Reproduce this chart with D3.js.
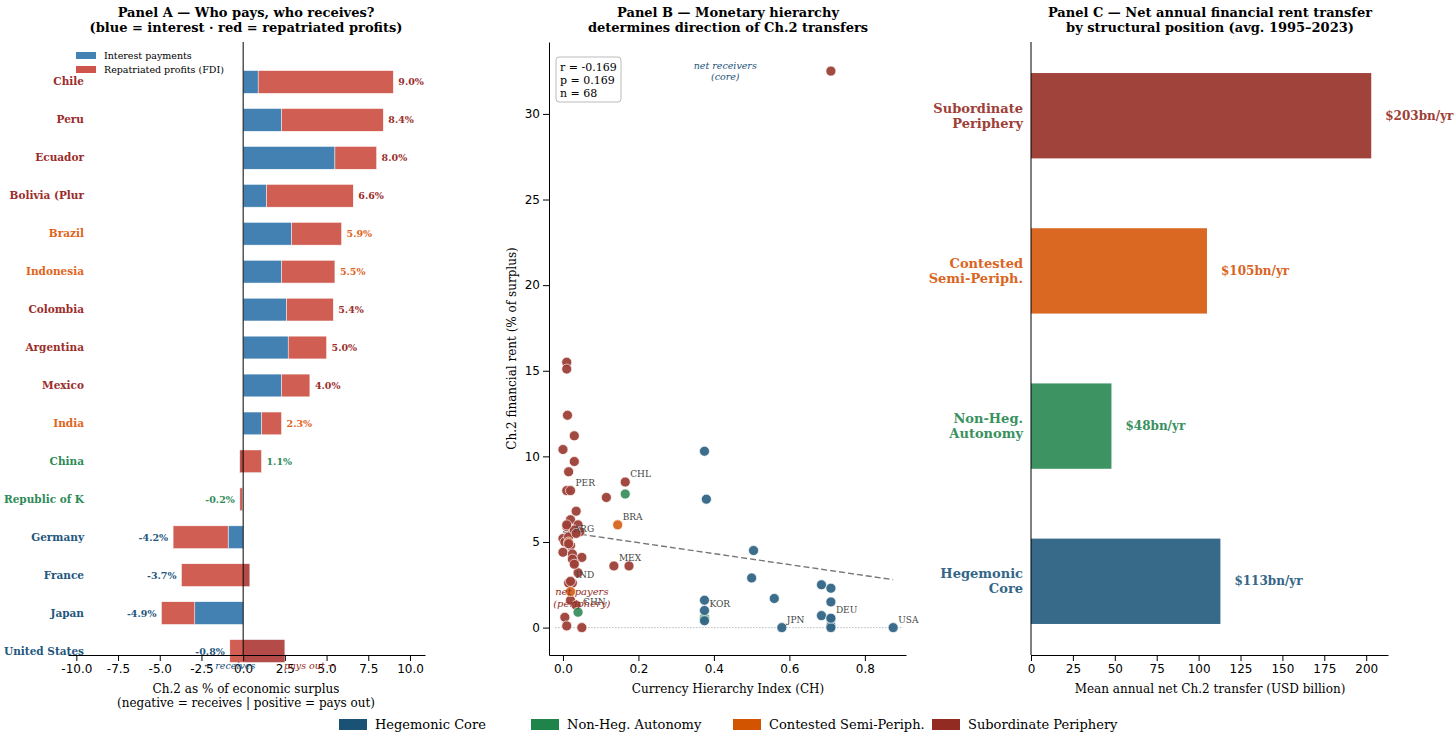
<!DOCTYPE html>
<html><head><meta charset="utf-8">
<script src="https://cdn.jsdelivr.net/npm/d3@7"></script>
<style>body{margin:0;background:#fff}svg{font-family:"DejaVu Serif",serif}</style>
</head><body>
<script>
const groupNames = ["Hegemonic Core","Non-Heg. Autonomy","Contested Semi-Periph.","Subordinate Periphery"];
const groupColors = ["#1a5276","#1e8449","#d35400","#922b21"];
const labelColors = ["#24577e","#2e8b57","#e0641c","#9b2d2a"];
const barColors = ["#336687","#3a9160","#d9651f","#9e4037"];

// Panel A
const countries = ["Chile","Peru","Ecuador","Bolivia (Plur","Brazil","Indonesia","Colombia","Argentina","Mexico","India","China","Republic of K","Germany","France","Japan","United States"];
const countryGroup = [3,3,3,3,2,2,3,3,3,2,1,1,0,0,0,0];
const interest = [0.9,2.3,5.5,1.4,2.9,2.3,2.6,2.7,2.3,1.1,-0.2,-0.05,-0.9,0.4,-2.9,2.5];
const profits  = [8.1,6.1,2.5,5.2,3.0,3.2,2.8,2.3,1.7,1.2,1.3,-0.15,-3.3,-4.1,-2.0,-3.3];

// Panel B
const scX = [0.71,0.01,0.01,0.012,0.03,0.0,0.03,0.015,0.01,0.02,0.165,0.115,0.035,0.02,0.04,0.01,0.045,0.025,0.0,0.005,0.02,0.0,0.025,0.05,0.03,0.04,0.135,0.175,0.025,0.015,0.02,0.035,0.005,0.01,0.05,0.015,0.03,0.02,0.01,0.025,0.03,
  0.145,0.02,0.015,
  0.165,0.04,0.375,0.375,
  0.375,0.38,0.505,0.5,0.56,0.685,0.71,0.71,0.685,0.71,0.71,0.71,0.375,0.375,0.375,0.58,0.875,0.71,0.015,0.035];
const scY = [32.5,15.5,15.1,12.4,11.2,10.4,9.7,9.1,8.0,8.0,8.5,7.6,6.8,6.3,6.0,5.9,5.6,5.5,5.2,5.0,4.8,4.4,4.3,4.1,3.8,3.2,3.6,3.6,2.6,2.6,1.6,1.3,0.6,0.1,0.0,5.3,5.7,2.7,6.0,4.0,3.7,
  6.0,2.1,5.0,
  7.8,0.9,0.6,0.5,
  10.3,7.5,4.5,2.9,1.7,2.5,2.3,1.5,0.7,0.5,0.1,0.0,1.6,1.0,0.4,0.0,0.0,0.55,4.9,5.5];
const scG = [3,3,3,3,3,3,3,3,3,3,3,3,3,3,3,3,3,3,3,3,3,3,3,3,3,3,3,3,3,3,3,3,3,3,3,3,3,3,3,3,3,
  2,2,2, 1,1,1,1, 0,0,0,0,0,0,0,0,0,0,0,0,0,0,0,0,0,0, 3,3];
const scLabels = [["PER",0.02,8.0],["CHL",0.165,8.5],["BRA",0.145,6.0],["ARG",0.015,5.3],["MEX",0.135,3.6],["IND",0.02,2.6],["CHN",0.04,1.0],["KOR",0.375,0.9],["JPN",0.58,0.0],["DEU",0.71,0.55],["USA",0.875,0.0]];
const trend = [[0.0,5.6],[0.875,2.8]];

// Panel C
const posNames = [["Subordinate","Periphery"],["Contested","Semi-Periph."],["Non-Heg.","Autonomy"],["Hegemonic","Core"]];
const posValues = [203,105,48,113];
const posGroup = [3,2,1,0];

const W = 1456, H = 746, pTop = 42, pBot = 655;
const svg = d3.select("body").append("svg").attr("width",W).attr("height",H);

function title(x, lines){
  const t = svg.append("text").attr("x",x).attr("y",17).attr("text-anchor","middle")
    .attr("font-weight","bold").attr("font-size",13);
  lines.forEach((l,i)=>t.append("tspan").attr("x",x).attr("dy",i?15:0).text(l));
}
function styleAxis(g){ g.selectAll("text").attr("font-family","DejaVu Sans").attr("font-size",12).attr("fill","#000");
  g.selectAll("line,path").attr("stroke","#000"); }

// ---- Panel A
{
  const x = d3.scaleLinear().domain([-10.5,10.9]).range([68,425]);
  const y = d3.scaleBand().domain(countries).range([63,670]).paddingInner(0.4).paddingOuter(0.2);
  title(246,["Panel A — Who pays, who receives?","(blue = interest · red = repatriated profits)"]);
  const g = svg.append("g");
  countries.forEach((c,i)=>{
    const i0 = interest[i], t = i0+profits[i];
    g.append("rect").attr("x",x(Math.min(0,i0))).attr("width",Math.abs(x(i0)-x(0)))
      .attr("y",y(c)).attr("height",y.bandwidth()).attr("fill","#2f74ab").attr("opacity",0.9)
      .attr("stroke","#fff").attr("stroke-width",0.5);
    g.append("rect").attr("x",x(Math.min(i0,t))).attr("width",Math.abs(x(t)-x(i0)))
      .attr("y",y(c)).attr("height",y.bandwidth()).attr("fill","#c94236").attr("opacity",0.85)
      .attr("stroke","#fff").attr("stroke-width",0.5);
    g.append("text").attr("x",t>=0?x(Math.max(t,i0))+5:x(Math.min(t,i0))-5)
      .attr("text-anchor",t>=0?"start":"end").attr("y",y(c)+y.bandwidth()/2+3.5)
      .attr("font-size",9.5).attr("font-weight","bold").attr("fill",labelColors[countryGroup[i]])
      .text(t.toFixed(1)+"%");
    g.append("text").attr("x",84).attr("text-anchor","end").attr("y",y(c)+y.bandwidth()/2+3.5)
      .attr("font-size",10.5).attr("font-weight","bold").attr("fill",labelColors[countryGroup[i]]).text(c);
  });
  svg.append("line").attr("x1",x(0)).attr("x2",x(0)).attr("y1",pTop).attr("y2",pBot).attr("stroke","#000");
  const ax = svg.append("g").attr("transform",`translate(0,${pBot})`).call(d3.axisBottom(x).tickValues(d3.range(-10,10.1,2.5)).tickFormat(d=>d.toFixed(1)).tickSizeOuter(0));
  styleAxis(ax);
  const yl = y("United States")+y.bandwidth()+7;
  svg.append("text").attr("x",x(-0.8)).attr("y",yl).attr("text-anchor","middle").attr("font-size",9.5).attr("font-style","italic").attr("fill","#1a5276").text("← receives");
  svg.append("text").attr("x",x(4.0)).attr("y",yl).attr("text-anchor","middle").attr("font-size",9.5).attr("font-style","italic").attr("fill","#922b21").text("pays out →");
  svg.append("text").attr("x",246).attr("y",693).attr("text-anchor","middle").attr("font-size",12).text("Ch.2 as % of economic surplus");
  svg.append("text").attr("x",246).attr("y",707).attr("text-anchor","middle").attr("font-size",12).text("(negative = receives  |  positive = pays out)");
  const lg = svg.append("g").attr("transform","translate(76,52)");
  [["Interest payments","#2f74ab"],["Repatriated profits (FDI)","#c94236"]].forEach((d,i)=>{
    lg.append("rect").attr("x",0).attr("y",i*14).attr("width",20).attr("height",7).attr("fill",d[1]).attr("opacity",0.9);
    lg.append("text").attr("x",28).attr("y",i*14+7).attr("font-size",9.5).text(d[0]);
  });
}

// ---- Panel B
{
  const x = d3.scaleLinear().domain([-0.037,0.909]).range([549,906]);
  const y = d3.scaleLinear().domain([-1.6,34.2]).range([pBot,pTop]);
  title(728,["Panel B — Monetary hierarchy","determines direction of Ch.2 transfers"]);
  svg.append("line").attr("x1",x(-0.02)).attr("x2",x(0.9)).attr("y1",y(0)).attr("y2",y(0)).attr("stroke","#999").attr("stroke-dasharray","1,2");
  svg.append("line").attr("x1",x(trend[0][0])).attr("y1",y(trend[0][1])).attr("x2",x(trend[1][0])).attr("y2",y(trend[1][1]))
    .attr("stroke","#777").attr("stroke-width",1.4).attr("stroke-dasharray","6,3");
  svg.append("g").selectAll("circle").data(scX.map((v,i)=>i)).join("circle")
    .attr("cx",i=>x(scX[i])).attr("cy",i=>y(scY[i])).attr("r",5)
    .attr("fill",i=>barColors[scG[i]]).attr("opacity",0.95).attr("stroke","#fff").attr("stroke-width",0.7);
  scLabels.forEach(d=>svg.append("text").attr("x",x(d[1])+5).attr("y",y(d[2])-5).attr("font-size",9).attr("fill","#444").text(d[0]));
  svg.append("text").attr("x",x(0.43)).attr("y",69).attr("text-anchor","middle").attr("font-size",9.5).attr("font-style","italic").attr("fill","#1a5276")
    .selectAll("tspan").data(["net receivers","(core)"]).join("tspan").attr("x",x(0.43)).attr("dy",(d,i)=>i?11:0).text(d=>d);
  svg.append("text").attr("x",x(0.05)).attr("y",y(2.1)+3).attr("text-anchor","middle").attr("font-size",10).attr("font-style","italic").attr("fill","#922b21")
    .selectAll("tspan").data(["net payers","(periphery)"]).join("tspan").attr("x",x(0.05)).attr("dy",(d,i)=>i?12:0).text(d=>d);
  svg.append("rect").attr("x",556).attr("y",57).attr("width",65).attr("height",45).attr("rx",3).attr("fill","#fff").attr("stroke","#bbb");
  ["r = -0.169","p = 0.169","n = 68"].forEach((s,i)=>svg.append("text").attr("x",560).attr("y",71+i*13).attr("font-size",11).text(s));
  styleAxis(svg.append("g").attr("transform",`translate(0,${pBot})`).call(d3.axisBottom(x).tickValues([0,0.2,0.4,0.6,0.8]).tickFormat(d3.format(".1f")).tickSizeOuter(0)));
  styleAxis(svg.append("g").attr("transform",`translate(549,0)`).call(d3.axisLeft(y).tickValues([0,5,10,15,20,25,30]).tickSizeOuter(0)));
  svg.append("text").attr("x",728).attr("y",693).attr("text-anchor","middle").attr("font-size",12).text("Currency Hierarchy Index (CH)");
  svg.append("text").attr("transform",`translate(516,${(pTop+pBot)/2}) rotate(-90)`).attr("text-anchor","middle").attr("font-size",12).text("Ch.2 financial rent  (% of surplus)");
}

// ---- Panel C
{
  const x = d3.scaleLinear().domain([0,213]).range([1031,1388]);
  const y = d3.scaleBand().domain(d3.range(4)).range([pTop,pBot]).paddingInner(0.45).paddingOuter(0.2);
  title(1210,["Panel C — Net annual financial rent transfer","by structural position (avg. 1995–2023)"]);
  posValues.forEach((v,i)=>{
    const c = barColors[posGroup[i]];
    svg.append("rect").attr("x",x(0)).attr("y",y(i)).attr("width",x(v)-x(0)).attr("height",y.bandwidth()).attr("fill",c).attr("opacity",0.98);
    svg.append("text").attr("x",x(v)+14).attr("y",y(i)+y.bandwidth()/2+4).attr("font-size",12).attr("font-weight","bold").attr("fill",c).text(`$${v}bn/yr`);
    const t = svg.append("text").attr("text-anchor","end").attr("font-size",13).attr("font-weight","bold").attr("fill",c);
    posNames[i].forEach((s,k)=>t.append("tspan").attr("x",1023).attr("y",y(i)+y.bandwidth()/2-3+k*15).text(s));
  });
  svg.append("line").attr("x1",x(0)).attr("x2",x(0)).attr("y1",pTop).attr("y2",pBot).attr("stroke","#000");
  styleAxis(svg.append("g").attr("transform",`translate(0,${pBot})`).call(d3.axisBottom(x).tickValues(d3.range(0,201,25)).tickSizeOuter(0)));
  svg.append("text").attr("x",1210).attr("y",693).attr("text-anchor","middle").attr("font-size",12).text("Mean annual net Ch.2 transfer (USD billion)");
}

// ---- Legend
{
  const xs = [339,531,733,932];
  groupNames.forEach((n,i)=>{
    svg.append("rect").attr("x",xs[i]).attr("y",719).attr("width",28).attr("height",11).attr("fill",groupColors[i]);
    svg.append("text").attr("x",xs[i]+36).attr("y",729).attr("font-size",13).text(n);
  });
}
</script>
</body></html>
